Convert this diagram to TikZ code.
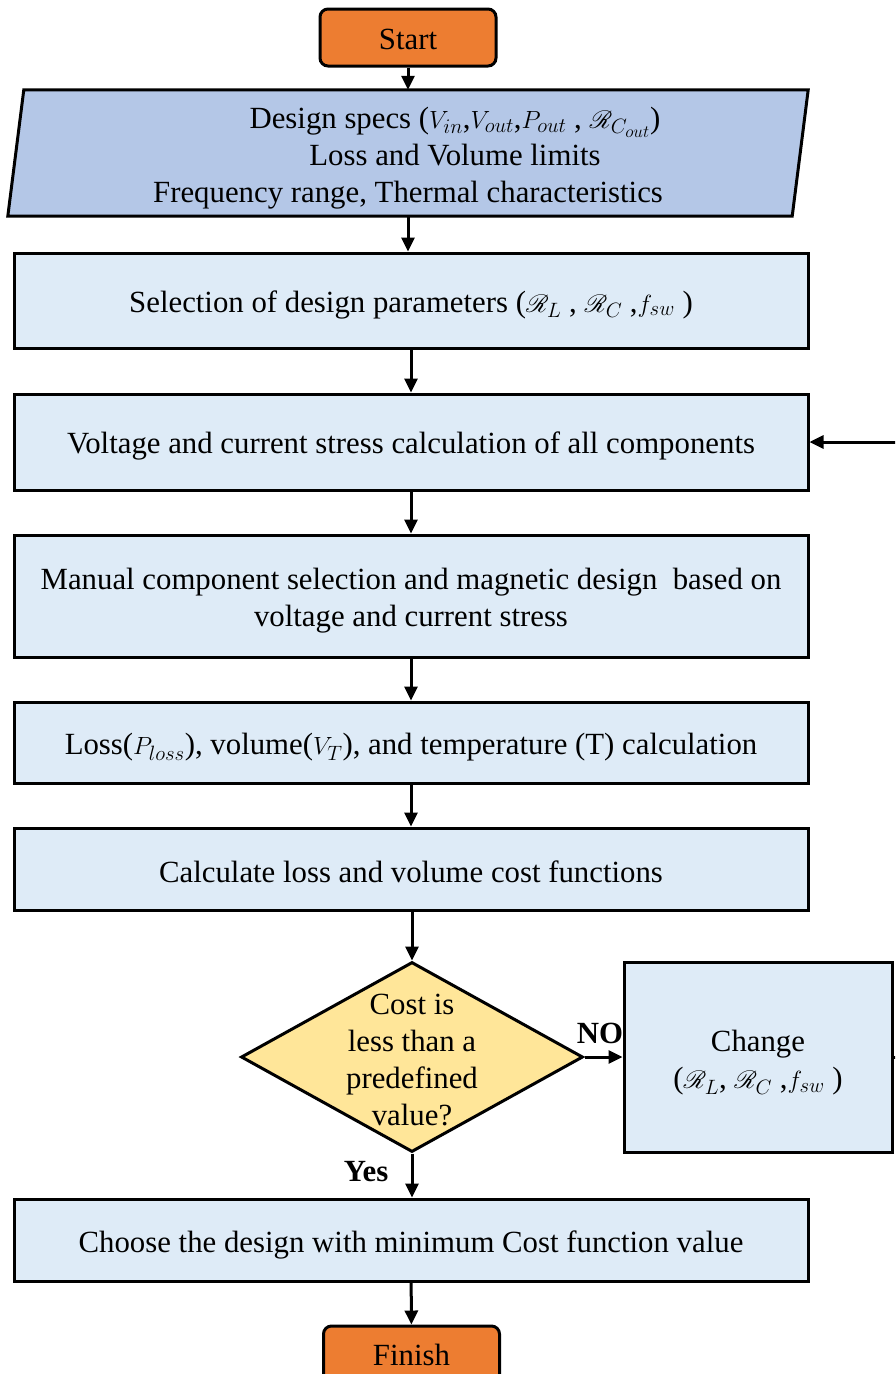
\documentclass[tikz,border=0pt]{standalone}
\usepackage{fontspec}
\setmainfont{Liberation Serif}
\usepackage{mathrsfs}
\usetikzlibrary{arrows.meta,shapes.geometric,backgrounds}
\definecolor{termorange}{HTML}{ED7D31}
\definecolor{specblue}{HTML}{B4C7E7}
\definecolor{boxblue}{HTML}{DEEBF7}
\definecolor{decyellow}{HTML}{FFE699}
\DeclareMathSizes{30.8}{30.8}{22}{16}
% lower a label inside its node without changing the node's size
\newcommand{\lowerby}[2]{\raisebox{-#1}[\height][\depth]{#2}}
\tikzset{
  txt/.style={font=\fontsize{30.8}{37}\selectfont, align=center, inner sep=0pt},
  outline/.style={draw=black, line width=3pt},
  terminal/.style={txt, outline, fill=termorange, rounded corners=8pt,
    minimum width=176pt, minimum height=57pt},
  procbox/.style={txt, outline, fill=boxblue, minimum width=794pt},
  decision/.style={outline, fill=decyellow, diamond, inner sep=0pt,
    minimum width=342pt, minimum height=190pt},
  flow/.style={line width=3pt, -{Triangle[length=14pt,width=13pt]}},
  answer/.style={font=\fontsize{30.8}{37}\selectfont\bfseries, inner sep=0pt}
}
\begin{document}
\begin{tikzpicture}[x=1pt,y=-1pt]
\useasboundingbox (0,0) rectangle (895,1374);
\clip (0,0) rectangle (895,1374);

% terminals
\node[terminal] (start) at (408,37.5) {\lowerby{2pt}{Start}};

% input data block (parallelogram drawn behind its text)
\node[txt, minimum width=800pt, minimum height=126pt] (specs) at (408,153)
  {\lowerby{5pt}{\parbox{800pt}{\centering
   \hspace*{94pt}Design specs ($V_{in}$,$V_{out}$,$P_{out}$ , $\mathscr{R}_{C_{out}}$)\\
   \hspace*{94pt}Loss and Volume limits\\
   Frequency range, Thermal characteristics}}};
\begin{scope}[on background layer]
  \draw[outline, fill=specblue]
    ([xshift=16pt]specs.north west) -- (specs.north east)
    -- ([xshift=-16pt]specs.south east) -- (specs.south west) -- cycle;
\end{scope}

% process steps
\node[procbox, minimum height=95pt] (selpar) at (411,300.5)
  {\lowerby{4pt}{Selection of design parameters ($\mathscr{R}_L$ , $\mathscr{R}_C$ ,$f_{sw}$ )}};
\node[procbox, minimum height=96pt] (stress) at (411,442)
  {\lowerby{4pt}{Voltage and current stress calculation of all components}};
\node[procbox, minimum height=122pt] (manual) at (411,596)
  {\lowerby{5pt}{\parbox{794pt}{\centering Manual component selection and magnetic design\ \ based on\\voltage and current stress}}};
\node[procbox, minimum height=81pt] (losscalc) at (411,742.5)
  {\lowerby{5pt}{Loss($P_{loss}$), volume($V_T$), and temperature (T) calculation}};
\node[procbox, minimum height=82pt] (costfn) at (411,869)
  {\lowerby{3pt}{Calculate loss and volume cost functions}};

% decision and its branches
\node[decision] (check) at (412,1057) {};
\node[txt] (checktext) at (412,1060) {Cost is\\less than a\\predefined\\value?};
\node[txt, outline, fill=boxblue, minimum width=268pt, minimum height=190pt] (change) at (758,1057)
  {\lowerby{6pt}{\parbox{268pt}{\centering Change\\($\mathscr{R}_L$, $\mathscr{R}_C$ ,$f_{sw}$ )}}};
\node[answer] (nolabel) at (600,1033) {NO};
\node[answer] (yeslabel) at (366,1172) {Yes};

\node[procbox, minimum height=82pt] (choose) at (411,1240)
  {\lowerby{5pt}{Choose the design with minimum Cost function value}};
\node[terminal] (finish) at (411.5,1354.5) {Finish};

% connectors
\draw[flow] (start) -- (specs.north);
\draw[flow] (specs.south) -- (specs.south |- selpar.north);
\draw[flow] (selpar) -- (stress);
\draw[flow] (stress) -- (manual);
\draw[flow] (manual) -- (losscalc);
\draw[flow] (losscalc) -- (costfn);
\draw[flow] (costfn.south) -- (costfn.south -| check.north) -- (check.north);
\draw[flow] (check.east) -- (check.east -| change.west);
\draw[flow] (check.south) -- (check.south |- choose.north);
\draw[flow] (choose) -- (finish);
\draw[flow] (change.east) -- ++(20,0) |- (stress.east);
\end{tikzpicture}
\end{document}
